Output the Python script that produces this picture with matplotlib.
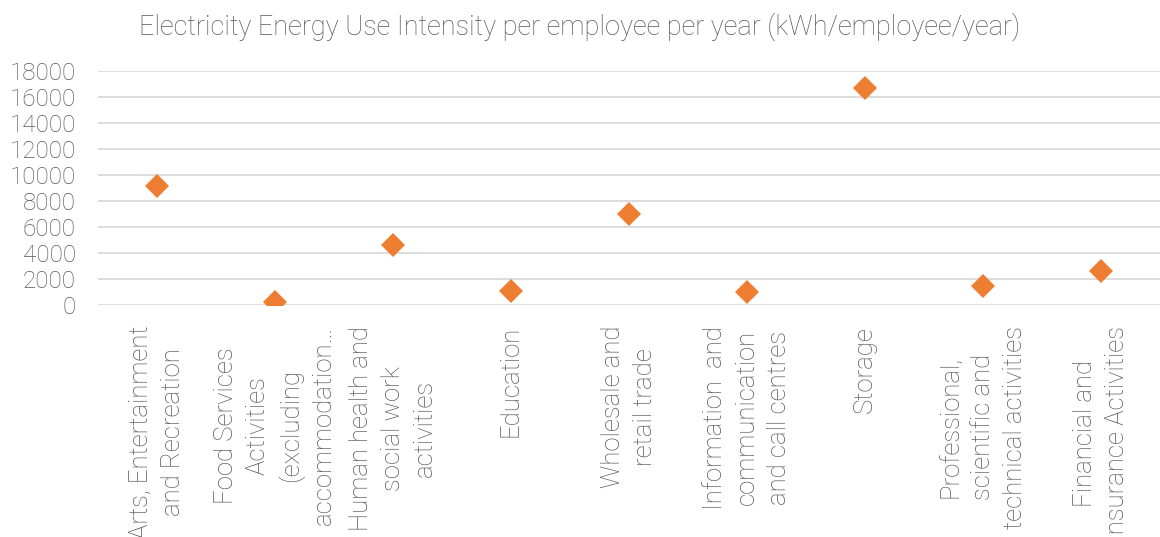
import matplotlib
matplotlib.use("Agg")
import matplotlib.pyplot as plt
from matplotlib import font_manager

# kWh per employee per year, by sector
sectors = [
    "Arts, Entertainment\nand Recreation",
    "Food Services\nActivities\n(excluding\naccommodation…",
    "Human health and\nsocial work\nactivities",
    "Education",
    "Wholesale and\nretail trade",
    "Information  and\ncommunication\nand call centres",
    "Storage",
    "Professional,\nscientific and\ntechnical activities",
    "Financial and\nInsurance Activities",
]
eui = [9150, 200, 4600, 1100, 7000, 980, 16700, 1500, 2600]
y_ticks = [0, 2000, 4000, 6000, 8000, 10000, 12000, 14000, 16000, 18000]

text_col = "#595959"
grid_col = "#D9D9D9"
marker_col = "#ED7D31"

names = {f.name for f in font_manager.fontManager.ttflist}
plt.rcParams["font.family"] = ["Roboto" if "Roboto" in names else "DejaVu Sans", "DejaVu Sans"]

fig = plt.figure(figsize=(11.6, 5.37), dpi=100)
ax = fig.add_axes([98 / 1160, 1 - 305 / 537, 1062 / 1160, 234 / 537])

x = list(range(len(sectors)))
ax.plot(x, eui, linestyle="none", marker="D", markersize=12.5,
        color=marker_col, markeredgewidth=0, zorder=3)

ax.set_xlim(-0.5, len(sectors) - 0.5)
ax.set_ylim(0, 18000)
ax.set_yticks(y_ticks)
ax.set_yticklabels([str(v) for v in y_ticks])
ax.yaxis.grid(True, color=grid_col, linewidth=1.3)
ax.set_axisbelow(True)
for s in ax.spines.values():
    s.set_visible(False)

# long sector names run off the bottom edge, as in the original report
ax.set_xticks(x)
ax.set_xticklabels(sectors, rotation=90, ha="center", va="top", multialignment="center",
                   linespacing=1.4)
ax.tick_params(axis="x", length=0, pad=15, labelsize=18.5, labelcolor=text_col)
ax.tick_params(axis="y", length=0, pad=16, labelsize=17.5, labelcolor=text_col)
for lbl in ax.get_xticklabels() + ax.get_yticklabels():
    lbl.set_fontweight("light")

fig.text(0.5, 1 - 27 / 537, "Electricity Energy Use Intensity per employee per year (kWh/employee/year)",
         ha="center", va="center", fontsize=19.5, color=text_col, fontweight="light")

fig.savefig("out.png", dpi=100)
